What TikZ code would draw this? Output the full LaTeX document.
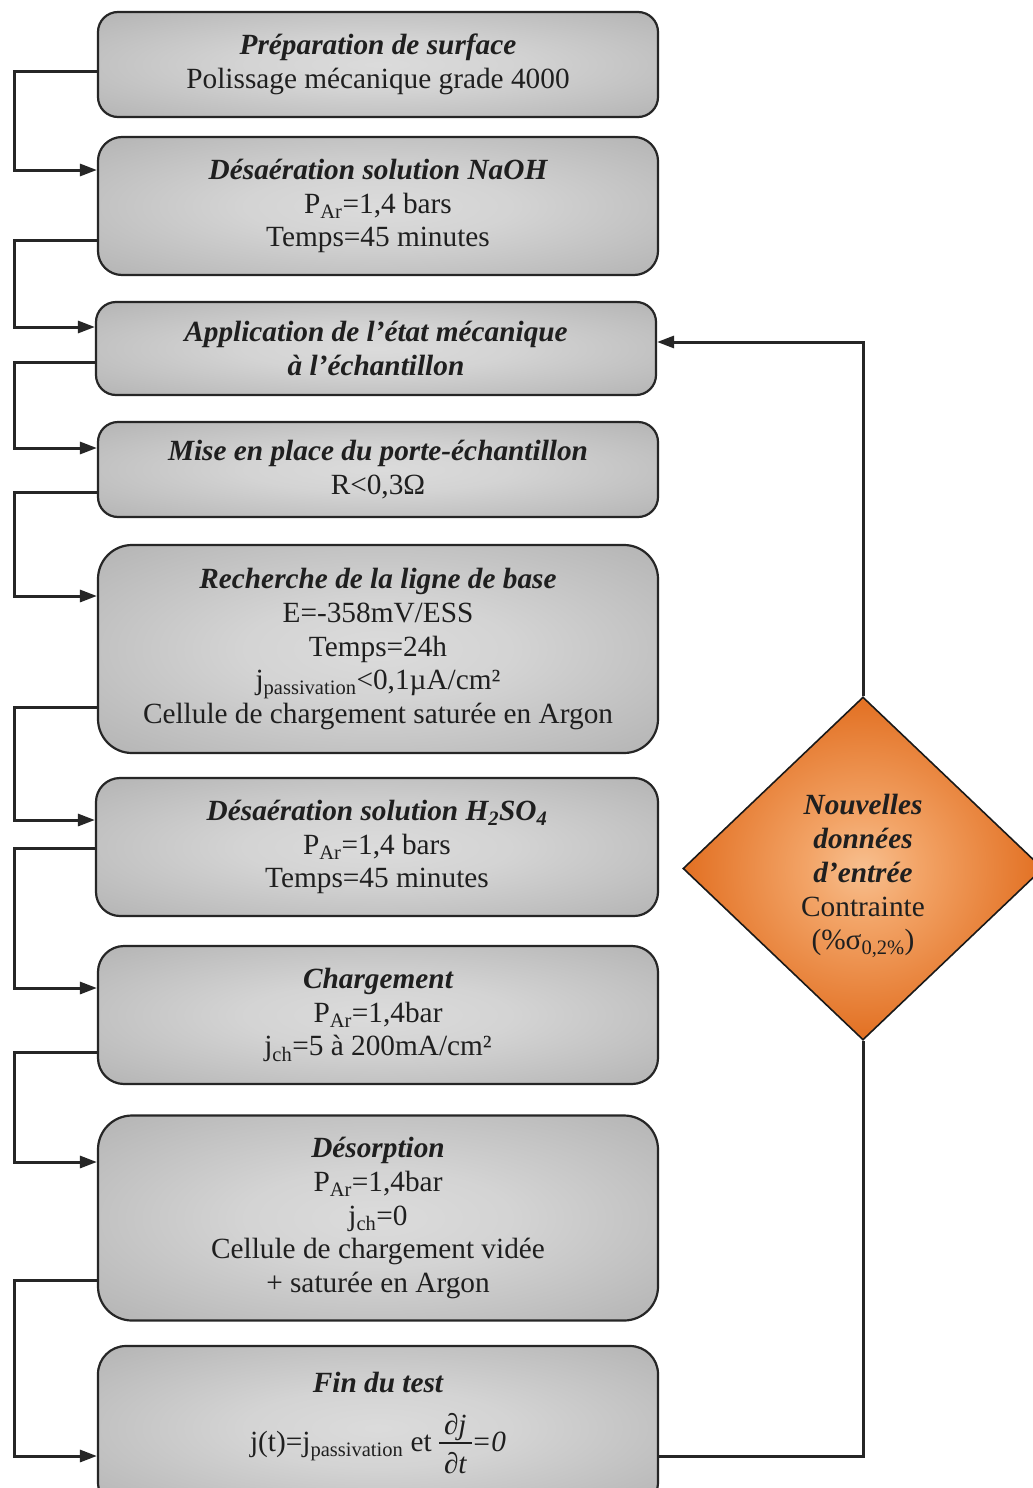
\documentclass[tikz,border=0pt]{standalone}
\usepackage{fontspec}
\setmainfont{Liberation Serif}
\usetikzlibrary{arrows.meta,shapes.geometric}
\pgfdeclareradialshading{boxshade}{\pgfpoint{0bp}{0bp}}{rgb(0bp)=(0.86,0.86,0.86);rgb(12bp)=(0.83,0.83,0.83);rgb(50bp)=(0.63,0.63,0.63);rgb(75bp)=(0.61,0.61,0.61)}
\pgfdeclareradialshading{diashade}{\pgfpoint{0bp}{0bp}}{rgb(0bp)=(0.97,0.75,0.56);rgb(8bp)=(0.95,0.64,0.40);rgb(24bp)=(0.89,0.45,0.15);rgb(75bp)=(0.88,0.42,0.12)}
\newcommand\hd[1]{{\bfseries\itshape #1}}
\tikzset{
  box/.style={draw=black!85, line width=2.2pt, shading=boxshade, minimum width=560pt,
    inner sep=0pt, align=center, text=black!88, font=\fontsize{29.3}{33.7}\selectfont},
  decision/.style={draw=black!90, line width=1.6pt, shape=diamond, shading=diashade,
    minimum width=360pt, minimum height=343pt, inner sep=0pt, align=center,
    text=black!88, font=\fontsize{29.3}{33.7}\selectfont},
  link/.style={draw=black!85, line width=3pt},
  linkarrow/.style={link, -{Triangle[length=17pt,width=12pt]}}
}
\begin{document}
\begin{tikzpicture}[x=1pt,y=-1pt]
\clip (0,0) rectangle (1033,1488);
\fill[white] (0,0) rectangle (1033,1488);

\node[box, minimum height=105pt, rounded corners=20pt] (b1) at (378,64.5)
  {\hd{Préparation de surface}\\Polissage mécanique grade 4000};
\node[box, minimum height=138pt, rounded corners=24pt] (b2) at (378,206)
  {\hd{Désaération solution NaOH}\\P\textsubscript{Ar}=1,4 bars\\Temps=45 minutes};
\node[box, minimum height=93pt, rounded corners=20pt] (b3) at (376,348.5)
  {\hd{Application de l’état mécanique}\\\hd{à l’échantillon}};
\node[box, minimum height=95pt, rounded corners=20pt] (b4) at (378,469.5)
  {\hd{Mise en place du porte-échantillon}\\R<0,3Ω};
\node[box, minimum height=208pt, rounded corners=34pt] (b5) at (378,649)
  {\hd{Recherche de la ligne de base}\\E=-358mV/ESS\\Temps=24h\\j\textsubscript{passivation}<0,1µA/cm²\\Cellule de chargement saturée en Argon};
\node[box, minimum height=138pt, minimum width=562pt, rounded corners=24pt] (b6) at (377,847)
  {\hd{Désaération solution H\textsubscript{2}SO\textsubscript{4}}\\P\textsubscript{Ar}=1,4 bars\\Temps=45 minutes};
\node[box, minimum height=138pt, rounded corners=26pt] (b7) at (378,1015)
  {\hd{Chargement}\\P\textsubscript{Ar}=1,4bar\\j\textsubscript{ch}=5 à 200mA/cm²};
\node[box, minimum height=205pt, rounded corners=34pt] (b8) at (378,1218)
  {\hd{Désorption}\\P\textsubscript{Ar}=1,4bar\\j\textsubscript{ch}=0\\Cellule de chargement vidée\\+ saturée en Argon};
\node[box, minimum height=164pt, rounded corners=28pt] (b9) at (378,1428)
  {\hd{Fin du test}\\[12pt]j(t)=j\textsubscript{passivation} et\ 
   $\vcenter{\hbox{\setlength\arrayrulewidth{1.6pt}\begin{tabular}{@{\,}c@{\,}}\rule{0pt}{29pt}\itshape ∂j\\[-3pt]\hline\rule{0pt}{30pt}\itshape ∂t\end{tabular}}}$\textit{=0}};

\node[decision] (dia) at (863,868.5)
  {\rule{0pt}{36pt}\hd{Nouvelles}\\\hd{données}\\\hd{d’entrée}\\Contrainte\\(\%σ\textsubscript{0,2\%})};

\draw[linkarrow] (b1.west |- 0,72) -- (14,72) |- (b2.west |- 0,170);
\draw[linkarrow] (b2.west |- 0,240) -- (14,240) |- (b3.west |- 0,327);
\draw[linkarrow] (b3.west |- 0,362) -- (14,362) |- (b4.west |- 0,448);
\draw[linkarrow] (b4.west |- 0,492) -- (14,492) |- (b5.west |- 0,596);
\draw[linkarrow] (b5.west |- 0,707) -- (14,707) |- (b6.west |- 0,820);
\draw[linkarrow] (b6.west |- 0,848) -- (14,848) |- (b7.west |- 0,988);
\draw[linkarrow] (b7.west |- 0,1052) -- (14,1052) |- (b8.west |- 0,1162);
\draw[linkarrow] (b8.west |- 0,1280) -- (14,1280) |- (b9.west |- 0,1456);
\draw[link] (b9.east |- 0,1456) -| (dia.south);
\draw[linkarrow] (dia.north) |- (b3.east |- 0,342);
\end{tikzpicture}
\end{document}
